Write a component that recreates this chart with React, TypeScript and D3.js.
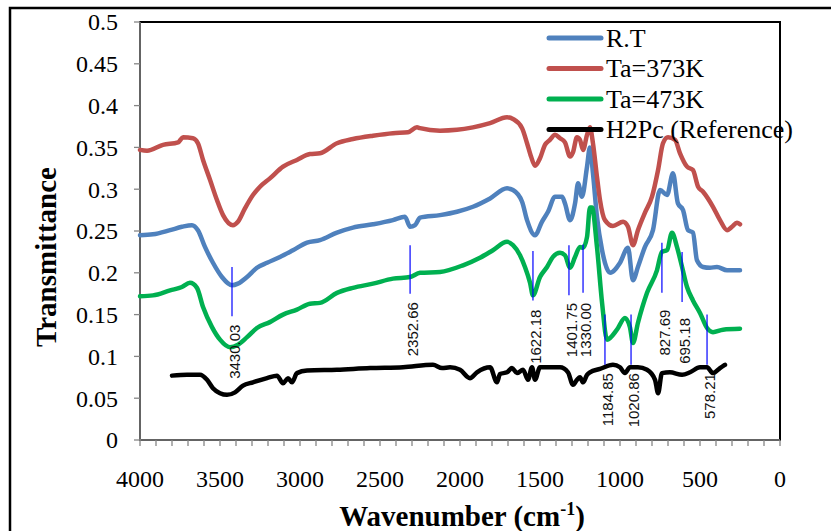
import * as d3 from 'd3';
import React, { useRef, useEffect } from 'react';

// wavenumber (cm-1), transmittance
const rtPoints = [
  [4000, 0.245], [3919, 0.246], [3812, 0.251], [3738, 0.255], [3675, 0.257], [3638, 0.251],
  [3594, 0.231], [3544, 0.212], [3488, 0.195], [3425, 0.185], [3388, 0.187], [3331, 0.195],
  [3269, 0.206], [3206, 0.212], [3125, 0.219], [3044, 0.227], [2956, 0.236], [2875, 0.239],
  [2769, 0.248], [2669, 0.254], [2544, 0.258], [2419, 0.263], [2344, 0.267], [2312, 0.255],
  [2281, 0.257], [2250, 0.266], [2125, 0.269], [2019, 0.273], [1919, 0.279], [1812, 0.289],
  [1706, 0.301], [1669, 0.299], [1612, 0.285], [1581, 0.263], [1531, 0.245], [1488, 0.261],
  [1450, 0.273], [1406, 0.291], [1362, 0.291], [1344, 0.283], [1312, 0.263], [1281, 0.283],
  [1262, 0.307], [1238, 0.291], [1206, 0.327], [1188, 0.35], [1169, 0.319], [1144, 0.267],
  [1112, 0.227], [1094, 0.212], [1062, 0.2], [1000, 0.212], [950, 0.23], [919, 0.191],
  [888, 0.207], [844, 0.231], [794, 0.251], [750, 0.299], [706, 0.293], [669, 0.319],
  [638, 0.283], [606, 0.275], [575, 0.251], [544, 0.248], [519, 0.215], [481, 0.207],
  [438, 0.206], [394, 0.207], [331, 0.203], [250, 0.203],
]

const ta373Points = [
  [4000, 0.347], [3956, 0.346], [3856, 0.353], [3762, 0.356], [3731, 0.362], [3669, 0.361],
  [3638, 0.355], [3606, 0.335], [3562, 0.311], [3519, 0.287], [3481, 0.269], [3419, 0.257],
  [3388, 0.261], [3344, 0.277], [3294, 0.293], [3250, 0.303], [3188, 0.313], [3106, 0.327],
  [3019, 0.335], [2938, 0.342], [2875, 0.343], [2769, 0.355], [2669, 0.36], [2544, 0.364],
  [2419, 0.367], [2325, 0.368], [2269, 0.374], [2250, 0.373], [2125, 0.37], [2019, 0.371],
  [1919, 0.374], [1812, 0.379], [1706, 0.386], [1669, 0.384], [1612, 0.373], [1581, 0.355],
  [1556, 0.339], [1531, 0.328], [1500, 0.337], [1469, 0.353], [1438, 0.359], [1406, 0.365],
  [1375, 0.361], [1344, 0.356], [1312, 0.339], [1294, 0.344], [1269, 0.362], [1250, 0.359],
  [1231, 0.347], [1206, 0.365], [1188, 0.374], [1169, 0.355], [1144, 0.315], [1125, 0.287],
  [1094, 0.263], [1044, 0.256], [981, 0.261], [950, 0.255], [919, 0.233], [888, 0.251],
  [844, 0.272], [800, 0.291], [762, 0.323], [731, 0.355], [700, 0.362], [656, 0.359],
  [625, 0.343], [581, 0.327], [544, 0.323], [512, 0.303], [481, 0.297], [419, 0.279],
  [375, 0.263], [331, 0.251], [300, 0.255], [269, 0.26], [250, 0.258],
]

const ta473Points = [
  [4000, 0.172], [3919, 0.173], [3812, 0.179], [3738, 0.183], [3688, 0.188], [3644, 0.182],
  [3606, 0.159], [3550, 0.135], [3500, 0.12], [3438, 0.111], [3388, 0.114], [3331, 0.123],
  [3269, 0.134], [3188, 0.141], [3106, 0.15], [3019, 0.156], [2938, 0.163], [2875, 0.164],
  [2769, 0.176], [2669, 0.182], [2544, 0.187], [2419, 0.193], [2312, 0.195], [2250, 0.2],
  [2125, 0.201], [1981, 0.209], [1875, 0.218], [1794, 0.227], [1706, 0.237], [1669, 0.233],
  [1625, 0.221], [1594, 0.207], [1562, 0.188], [1544, 0.173], [1500, 0.195], [1456, 0.207],
  [1419, 0.219], [1375, 0.224], [1344, 0.221], [1312, 0.206], [1281, 0.219], [1250, 0.231],
  [1231, 0.23], [1206, 0.243], [1188, 0.278], [1175, 0.278], [1144, 0.231], [1112, 0.164],
  [1081, 0.12], [1019, 0.132], [969, 0.146], [938, 0.135], [919, 0.116], [888, 0.14],
  [831, 0.176], [769, 0.203], [738, 0.225], [706, 0.227], [675, 0.248], [644, 0.231],
  [612, 0.207], [581, 0.183], [544, 0.167], [500, 0.152], [456, 0.134], [419, 0.129],
  [356, 0.132], [250, 0.133],
]

const h2pcPoints = [
  [3800, 0.077], [3706, 0.078], [3625, 0.078], [3581, 0.072], [3544, 0.062], [3500, 0.056],
  [3456, 0.054], [3406, 0.057], [3356, 0.065], [3294, 0.069], [3206, 0.074], [3144, 0.077],
  [3106, 0.068], [3075, 0.074], [3050, 0.069], [3019, 0.08], [2956, 0.083], [2769, 0.084],
  [2562, 0.086], [2356, 0.087], [2169, 0.09], [2112, 0.086], [2062, 0.087], [2000, 0.084],
  [1938, 0.074], [1894, 0.081], [1812, 0.087], [1769, 0.069], [1750, 0.079], [1706, 0.081],
  [1675, 0.086], [1644, 0.08], [1606, 0.084], [1575, 0.072], [1550, 0.087], [1531, 0.072],
  [1500, 0.087], [1375, 0.087], [1325, 0.081], [1294, 0.066], [1269, 0.072], [1250, 0.075],
  [1231, 0.069], [1206, 0.078], [1188, 0.081], [1125, 0.085], [1044, 0.09], [1000, 0.087],
  [969, 0.08], [938, 0.087], [888, 0.087], [831, 0.084], [781, 0.072], [762, 0.056],
  [738, 0.08], [688, 0.081], [612, 0.078], [562, 0.081], [500, 0.087], [456, 0.087],
  [419, 0.08], [375, 0.086], [344, 0.09],
]

const seriesNames = ['R.T', 'Ta=373K', 'Ta=473K', 'H2Pc (Reference)']
const seriesColors = ['#4f81bd', '#c0504d', '#00b050', '#000000']

// peak markers: label, position (cm-1), line top / bottom and label start (transmittance)
const peakLabels = ['3430.03', '2352.66', '1622.18', '1401.75', '1330.00', '1184.85', '1020.86', '827.69', '695.18', '578.21']
const peakWave = [3425, 2312, 1544, 1319, 1231, 1094, 931, 738, 612, 456]
const peakTop = [0.207, 0.233, 0.226, 0.233, 0.234, 0.15, 0.15, 0.236, 0.225, 0.15]
const peakBottom = [0.148, 0.175, 0.167, 0.173, 0.176, 0.09, 0.09, 0.176, 0.165, 0.09]
const peakText = [0.138, 0.165, 0.156, 0.164, 0.164, 0.08, 0.08, 0.156, 0.146, 0.08]

const xTicks = [4000, 3500, 3000, 2500, 2000, 1500, 1000, 500, 0]
const yTicks = [0, 0.05, 0.1, 0.15, 0.2, 0.25, 0.3, 0.35, 0.4, 0.45, 0.5]

const App = () => {
    const ref = useRef(null)

    useEffect(() => {
        d3.select(ref.current).selectAll('*').remove()

        const W = 831
        const H = 531
        const margin = { top: 22, right: 51, bottom: 91, left: 140 }
        const serif = "'Liberation Serif', 'Times New Roman', serif"
        const sans = "'Liberation Sans', Arial, sans-serif"

        const svg = d3.select(ref.current)
            .attr('width', W)
            .attr('height', H)

        svg.append('rect')
            .attr('width', W).attr('height', H).attr('fill', '#fff')

        // outer chart border (runs off the page right and bottom)
        svg.append('rect')
            .attr('x', 10).attr('y', 8)
            .attr('width', 900).attr('height', 600)
            .attr('fill', 'none').attr('stroke', '#000').attr('stroke-width', 2.5)

        const x = d3.scaleLinear().domain([4000, 0]).range([margin.left, W - margin.right])
        const y = d3.scaleLinear().domain([0, 0.5]).range([H - margin.bottom, margin.top])

        // plot area border
        svg.append('rect')
            .attr('x', x(4000)).attr('y', y(0.5))
            .attr('width', x(0) - x(4000)).attr('height', y(0) - y(0.5))
            .attr('fill', 'none').attr('stroke', '#000').attr('stroke-width', 2)

        // x axis
        const xAxis = svg.append('g')
            .attr('transform', `translate(0, ${y(0)})`)
        xAxis.append('line')
            .attr('x1', x(4000)).attr('x2', x(0))
            .attr('stroke', '#868686').attr('stroke-width', 1.5)
        xAxis.selectAll('line.minor')
            .data(d3.range(4000, -1, -100))
            .enter().append('line')
            .attr('class', 'minor')
            .attr('x1', d => x(d)).attr('x2', d => x(d))
            .attr('y1', 0).attr('y2', 6)
            .attr('stroke', '#868686').attr('stroke-width', 1.3)
        xAxis.selectAll('text')
            .data(xTicks)
            .enter().append('text')
            .attr('x', d => x(d))
            .attr('y', 47)
            .attr('text-anchor', 'middle')
            .style('font-family', serif)
            .style('font-size', '24px')
            .text(d => d)

        // y axis
        const yAxis = svg.append('g')
            .attr('transform', `translate(${x(4000)}, 0)`)
        yAxis.append('line')
            .attr('y1', y(0)).attr('y2', y(0.5))
            .attr('stroke', '#868686').attr('stroke-width', 1.5)
        yAxis.selectAll('line.tick')
            .data(yTicks)
            .enter().append('line')
            .attr('class', 'tick')
            .attr('x1', -6).attr('x2', 0)
            .attr('y1', d => y(d)).attr('y2', d => y(d))
            .attr('stroke', '#868686').attr('stroke-width', 1.3)
        yAxis.selectAll('text')
            .data(yTicks)
            .enter().append('text')
            .attr('x', -22)
            .attr('y', d => y(d))
            .attr('dy', '0.35em')
            .attr('text-anchor', 'end')
            .style('font-family', serif)
            .style('font-size', '24px')
            .text(d => d3.format('~g')(d))

        // axis titles
        svg.append('text')
            .attr('transform', `translate(56, 257) rotate(-90)`)
            .attr('text-anchor', 'middle')
            .style('font-family', serif)
            .style('font-size', '29px')
            .style('font-weight', 'bold')
            .text('Transmittance')

        const xTitle = svg.append('text')
            .attr('x', 462)
            .attr('y', 526)
            .attr('text-anchor', 'middle')
            .style('font-family', serif)
            .style('font-size', '29px')
            .style('font-weight', 'bold')
        xTitle.append('tspan').text('Wavenumber (cm')
        xTitle.append('tspan').attr('dy', -11).style('font-size', '18px').text('-1')
        xTitle.append('tspan').attr('dy', 11).text(')')

        // curves
        const line = d3.line()
            .x(d => x(d[0]))
            .y(d => y(d[1]))
            .curve(d3.curveMonotoneX)

        const allSeries = [rtPoints, ta373Points, ta473Points, h2pcPoints]
        allSeries.forEach((pts, i) => {
            svg.append('path')
                .datum(pts)
                .attr('fill', 'none')
                .attr('stroke', seriesColors[i])
                .attr('stroke-width', 4.5)
                .attr('stroke-linejoin', 'round')
                .attr('stroke-linecap', 'round')
                .attr('d', line)
        })

        // peak markers
        const peaks = svg.append('g')
        peakLabels.forEach((lab, i) => {
            peaks.append('line')
                .attr('x1', x(peakWave[i])).attr('x2', x(peakWave[i]))
                .attr('y1', y(peakTop[i])).attr('y2', y(peakBottom[i]))
                .attr('stroke', '#0000ff').attr('stroke-width', 1.2)
            peaks.append('text')
                .attr('transform', `translate(${x(peakWave[i]) + 3}, ${y(peakText[i])}) rotate(-90)`)
                .attr('text-anchor', 'end')
                .attr('dy', '0.35em')
                .style('font-family', sans)
                .style('font-size', '15px')
                .attr('fill', '#111')
                .text(lab)
        })

        // legend
        const legend = svg.append('g')
        seriesNames.forEach((name, i) => {
            const ly = 38 + i * 30.5
            legend.append('line')
                .attr('x1', 549).attr('x2', 601)
                .attr('y1', ly).attr('y2', ly)
                .attr('stroke', seriesColors[i])
                .attr('stroke-width', 5)
                .attr('stroke-linecap', 'round')
            legend.append('text')
                .attr('x', 606)
                .attr('y', ly)
                .attr('dy', '0.33em')
                .style('font-family', serif)
                .style('font-size', '26px')
                .text(name)
        })
    }, [])

    return <svg ref={ref} style={{ position: 'absolute', left: 0, top: 0 }} />
}

export default App
